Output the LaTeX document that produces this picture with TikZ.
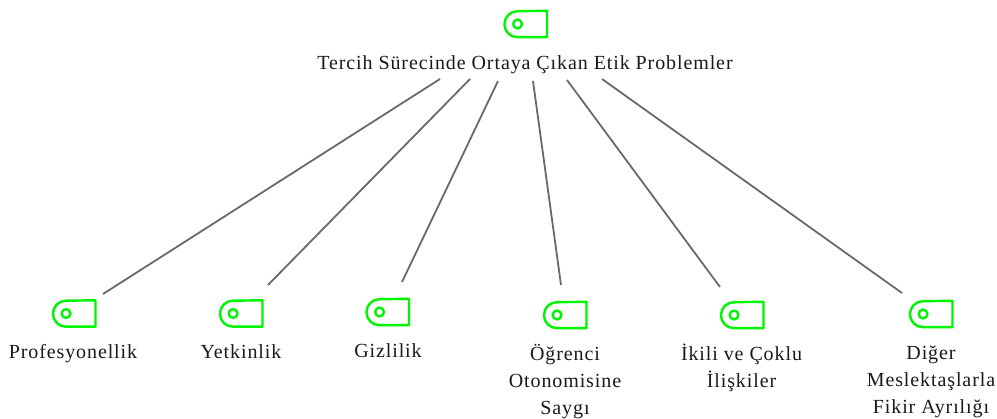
\documentclass[tikz,border=0pt]{standalone}
\usepackage{fontspec}
\setmainfont[LetterSpace=4.5]{Liberation Serif}
\usetikzlibrary{calc}
\newcommand{\topstrut}{\rule{0pt}{18pt}}
\tikzset{
  x=1pt,y=-1pt,
  iconbox/.style={inner sep=0pt,minimum width=42.5pt,minimum height=26pt},
  iconline/.style={draw={rgb,255:red,0;green,245;blue,0},line width=2.4pt,line join=round},
  conn/.style={draw={rgb,255:red,105;green,105;blue,105},line width=1.8pt},
  lab/.style={inner sep=0pt,anchor=north,align=center,text={rgb,255:red,25;green,25;blue,25},font=\fontsize{20}{27}\selectfont}
}
\newcommand{\tagicon}[3]{%
  \node[iconbox] (#1) at (#2,#3) {};
  \draw[iconline] (#1.north east) -- (#1.south east) -- ++(-29.5,0) arc (90:270:13) -- cycle;
  \draw[iconline] ($(#1.west)+(13.5,0)$) circle (4.4);
}
\begin{document}
\begin{tikzpicture}
\useasboundingbox (0,0) rectangle (997,419);
\tagicon{i0}{525.5}{24}
\tagicon{i1}{74}{313.5}
\tagicon{i2}{241}{313.5}
\tagicon{i3}{387.5}{312}
\tagicon{i4}{565}{315}
\tagicon{i5}{742}{315}
\tagicon{i6}{931}{314}
\node[lab] (t0) at (525,51) {\topstrut Tercih Sürecinde Ortaya Çıkan Etik Problemler};
\node[lab] (t1) at (73,340) {\topstrut Profesyonellik};
\node[lab] (t2) at (241,340) {\topstrut Yetkinlik};
\node[lab] (t3) at (388,339) {\topstrut Gizlilik};
\node[lab] (t4) at (565,342) {\topstrut Öğrenci\\Otonomisine\\Saygı};
\node[lab] (t5) at (741.5,342) {\topstrut İkili ve Çoklu\\İlişkiler};
\node[lab] (t6) at (931,341) {\topstrut Diğer\\Meslektaşlarla\\Fikir Ayrılığı};
\coordinate (a1) at (440,79); \coordinate (b1) at (103,294);
\coordinate (a2) at (470,79); \coordinate (b2) at (268,285);
\coordinate (a3) at (498,81); \coordinate (b3) at (402,282);
\coordinate (a4) at (533,81); \coordinate (b4) at (561,285);
\coordinate (a5) at (567,80); \coordinate (b5) at (720,287);
\coordinate (a6) at (602,79); \coordinate (b6) at (902,293);
\foreach \k in {1,...,6} \draw[conn] (a\k) -- (b\k);
\end{tikzpicture}
\end{document}
